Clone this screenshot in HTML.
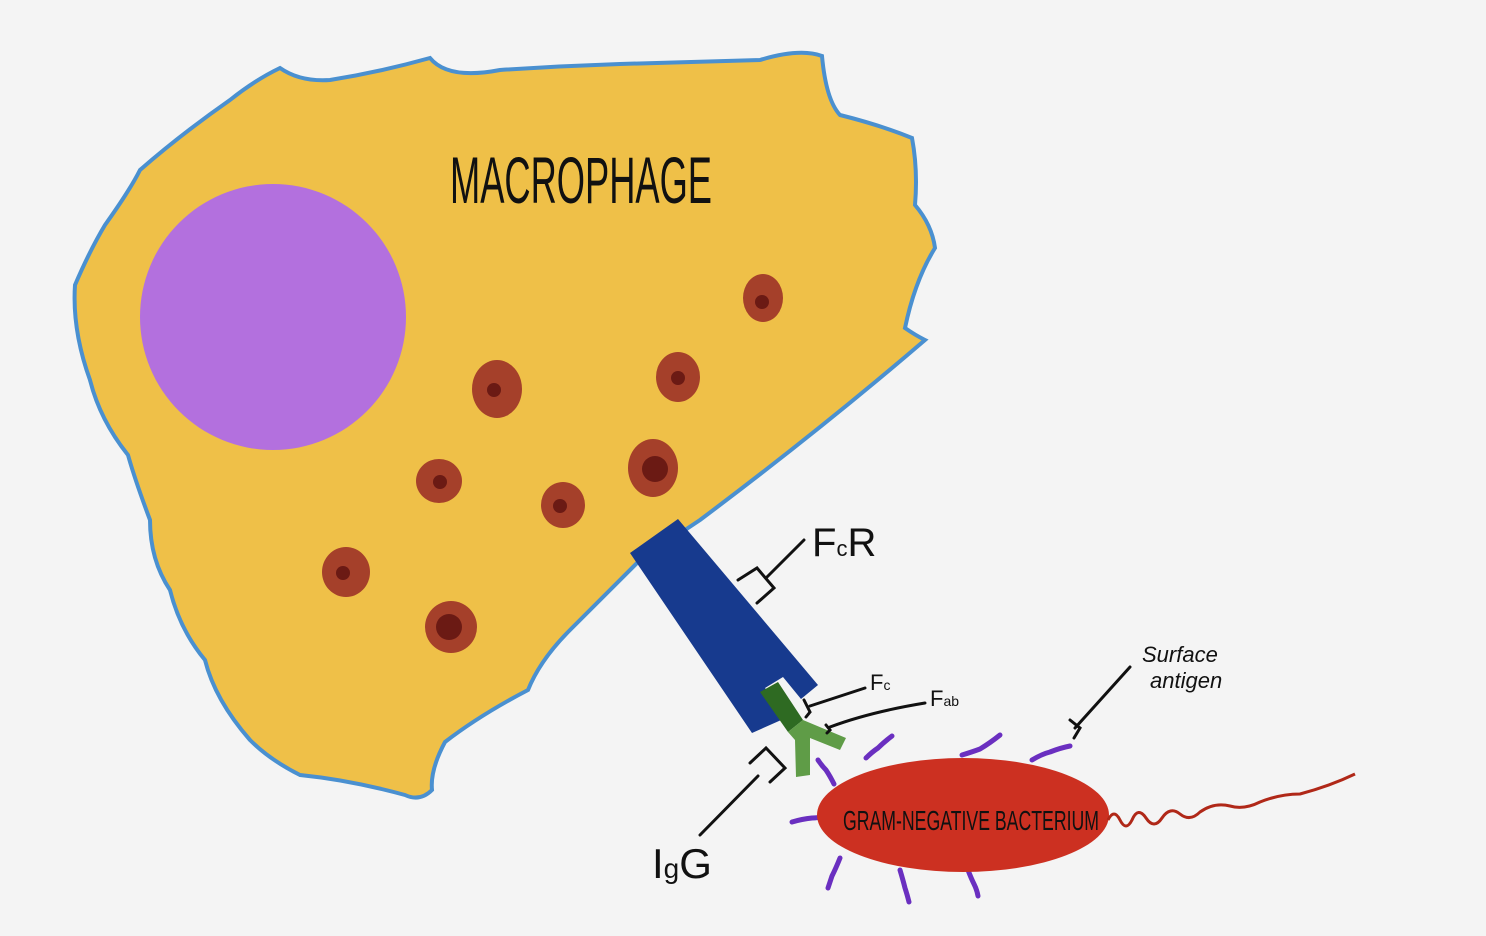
<!DOCTYPE html>
<html><head><meta charset="utf-8"><style>html,body{margin:0;padding:0;background:#f5f5f5;}svg{display:block}</style></head>
<body>
<svg width="1486" height="936" viewBox="0 0 1486 936" xmlns="http://www.w3.org/2000/svg">
<rect width="1486" height="936" fill="#f4f4f4"/>
<path d="M280,68 Q300,82 330,80 Q380,72 430,58 Q448,80 500,70 Q560,66 620,64 Q700,62 760,60 Q800,48 822,56 Q826,100 840,115 Q880,125 912,138 Q918,170 915,205 Q932,225 935,248 Q915,280 905,328 Q915,335 925,340 Q820,430 700,520 L640,560 Q600,600 570,630 Q540,660 528,690 Q480,715 445,742 Q430,770 432,790 Q420,802 405,795 Q350,780 300,775 Q270,760 250,740 Q215,700 205,660 Q180,630 170,590 Q150,560 150,520 Q135,480 128,455 Q100,420 90,380 Q72,330 75,285 Q90,250 105,225 Q130,190 140,170 Q180,135 230,100 Q255,80 280,68 Z" fill="#efc048" stroke="#4a90d0" stroke-width="4"/>
<circle cx="273" cy="317" r="133" fill="#b370de"/>
<g fill="#a5402a">
<ellipse cx="763" cy="298" rx="20" ry="24"/><ellipse cx="678" cy="377" rx="22" ry="25"/><ellipse cx="497" cy="389" rx="25" ry="29"/><ellipse cx="653" cy="468" rx="25" ry="29"/><ellipse cx="439" cy="481" rx="23" ry="22"/><ellipse cx="563" cy="505" rx="22" ry="23"/><ellipse cx="346" cy="572" rx="24" ry="25"/><ellipse cx="451" cy="627" rx="26" ry="26"/>
</g>
<g fill="#6b1a14">
<circle cx="762" cy="302" r="7"/><circle cx="678" cy="378" r="7"/><circle cx="494" cy="390" r="7"/><circle cx="655" cy="469" r="13"/><circle cx="440" cy="482" r="7"/><circle cx="560" cy="506" r="7"/><circle cx="343" cy="573" r="7"/><circle cx="449" cy="627" r="13"/>
</g>
<text x="450" y="203" font-family="Liberation Sans Narrow, Liberation Sans, sans-serif" font-size="66" textLength="262" lengthAdjust="spacingAndGlyphs" fill="#111">MACROPHAGE</text>
<!-- receptor -->
<polygon points="630,553 678,519 818,685 801,699 783,677 765,688 788,717 752,733" fill="#173a8e"/>
<!-- IgG -->
<polygon points="760,692 778,682 803,720 788,732" fill="#2e6a22"/>
<polygon points="788,732 803,720 846,738 840,750 810,738 810,775 796,777 795,740" fill="#5f9c47"/>
<!-- bacterium antigens -->
<g stroke="#6a2fc0" stroke-width="5" fill="none" stroke-linecap="round">
<path d="M818,760 q4,6 8,10 q4,6 8,14"/>
<path d="M866,758 q6,-6 12,-10 q6,-6 14,-12"/>
<path d="M962,755 q10,-3 18,-6 q10,-6 20,-14"/>
<path d="M1032,760 q10,-6 18,-8 q10,-4 20,-6"/>
<path d="M792,822 q10,-3 20,-4 q6,0 14,-2"/>
<path d="M840,858 q-4,10 -8,18 q-2,6 -4,12"/>
<path d="M900,870 q3,10 5,18 q2,6 4,14"/>
<path d="M968,870 q3,8 6,14 q3,6 4,12"/>
</g>
<ellipse cx="963" cy="815" rx="146" ry="57" fill="#cc3021"/>
<text x="843" y="830" font-family="Liberation Sans Narrow, Liberation Sans, sans-serif" font-size="28" textLength="256" lengthAdjust="spacingAndGlyphs" fill="#111">GRAM-NEGATIVE BACTERIUM</text>
<path d="M1108,820 q6,-12 12,0 q6,12 12,0 q6,-14 14,-2 q8,12 16,0 q8,-12 18,-4 q10,8 20,-2 q14,-10 30,-6 q14,4 30,-4 q20,-8 40,-8 q30,-8 55,-20" stroke="#b02818" stroke-width="3" fill="none"/>
<!-- label lines -->
<g stroke="#111" stroke-width="3" fill="none" stroke-linecap="round">
<path d="M738,580 L757,568 L774,588 L757,603 M766,578 L804,540"/>
<path d="M804,700 L810,712 L806,717 M810,706 L865,688"/>
<path d="M826,725 L830,730 L827,733 M830,727 Q870,712 925,703"/>
<path d="M750,763 L766,748 L785,768 L770,782 M758,776 L700,835"/>
<path d="M1070,720 L1080,728 L1074,738 M1075,728 L1130,667"/>
</g>
<g font-family="Liberation Sans, sans-serif" fill="#111">
<text x="812" y="556" font-size="40">F<tspan font-size="22">c</tspan>R</text>
<text x="870" y="690" font-size="22">F<tspan font-size="14">c</tspan></text>
<text x="930" y="706" font-size="22">F<tspan font-size="14">ab</tspan></text>
<text x="652" y="878" font-size="42">I<tspan font-size="28">g</tspan>G</text>
<text x="1142" y="662" font-size="22" font-style="italic">Surface</text>
<text x="1150" y="688" font-size="22" font-style="italic">antigen</text>
</g>
</svg>
</body></html>
